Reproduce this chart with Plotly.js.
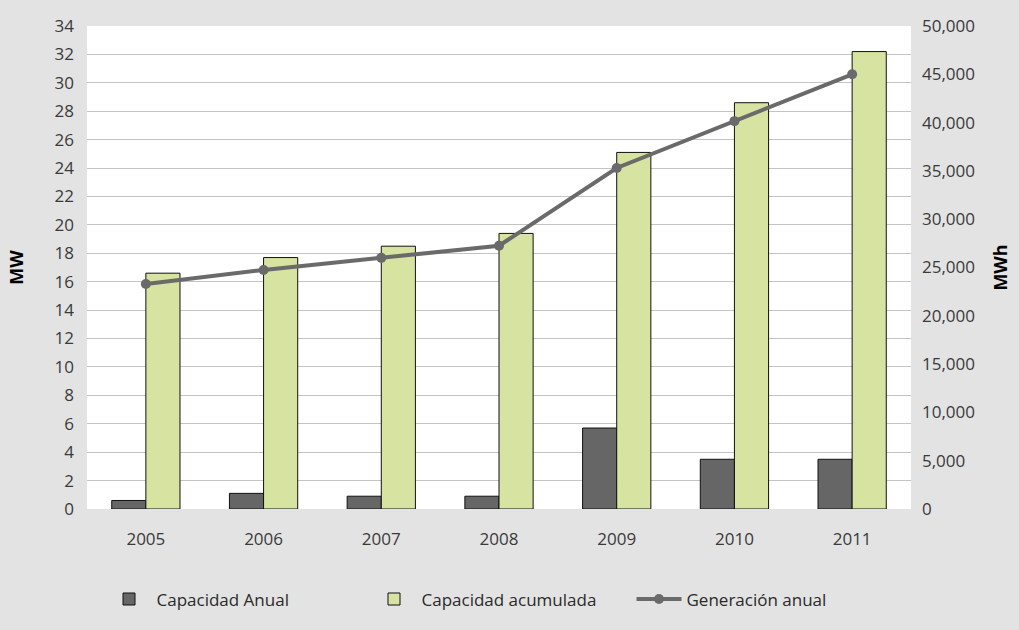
<!DOCTYPE html>
<html><head><meta charset="utf-8">
<script src="https://cdn.plot.ly/plotly-3.0.1.min.js"></script>
<style>html,body{margin:0;padding:0;background:#e3e3e3}</style>
</head><body>
<div id="chart" style="width:1019px;height:630px"></div>
<script>
const years = ["2005","2006","2007","2008","2009","2010","2011"];
const capacidadAnual = [0.6, 1.1, 0.9, 0.9, 5.7, 3.5, 3.5];
const capacidadAcumulada = [16.6, 17.7, 18.5, 19.4, 25.1, 28.6, 32.2];
const generacionAnual = [23300, 24750, 26000, 27250, 35300, 40150, 45000];

const fam = "Open Sans, Liberation Sans, sans-serif";
const tickFont = {family: fam, size: 17, color: "#3a3a3a"};

const traces = [
  {type: "bar", name: "Capacidad Anual", x: years, y: capacidadAnual,
   marker: {color: "#666666", line: {color: "#111111", width: 1}}},
  {type: "bar", name: "Capacidad acumulada", x: years, y: capacidadAcumulada,
   marker: {color: "#d6e3a1", line: {color: "#111111", width: 1}}},
  {type: "scatter", mode: "lines+markers", name: "Generación anual", x: years, y: generacionAnual,
   yaxis: "y2", line: {color: "#6a6a6a", width: 4}, marker: {color: "#6a6a6a", size: 10}}
];

const layout = {
  width: 1019, height: 630,
  margin: {l: 87, r: 108, t: 26, b: 121},
  paper_bgcolor: "#e3e3e3", plot_bgcolor: "#ffffff",
  font: {family: fam, size: 17, color: "#3a3a3a"},
  barmode: "group", bargap: 0.42, bargroupgap: 0,
  showlegend: true,
  legend: {orientation: "h", x: 0.5, xanchor: "center", y: -0.15, yanchor: "top",
           font: {family: fam, size: 17, color: "#2a2a2a"}, traceorder: "normal",
           entrywidth: 205, entrywidthmode: "pixels", itemwidth: 45, bgcolor: "rgba(0,0,0,0)"},
  xaxis: {type: "category", tickfont: tickFont, showgrid: false,
          ticks: "", showline: false, ticklabelstandoff: 18},
  yaxis: {range: [0, 34], dtick: 2, gridcolor: "#c4c4c4", zeroline: false,
          tickfont: tickFont, ticklabelstandoff: 12,
          title: {text: "MW", font: {family: fam, size: 18, color: "#000", weight: "bold"}, standoff: 26}},
  yaxis2: {range: [0, 50000], dtick: 5000, overlaying: "y", side: "right",
           showgrid: false, zeroline: false, tickformat: ",",
           tickfont: tickFont, ticklabelstandoff: 10,
           title: {text: "MWh", font: {family: fam, size: 18, color: "#000", weight: "bold"}, standoff: 20}}
};

Plotly.newPlot("chart", traces, layout, {displayModeBar: false});
</script>
</body></html>
